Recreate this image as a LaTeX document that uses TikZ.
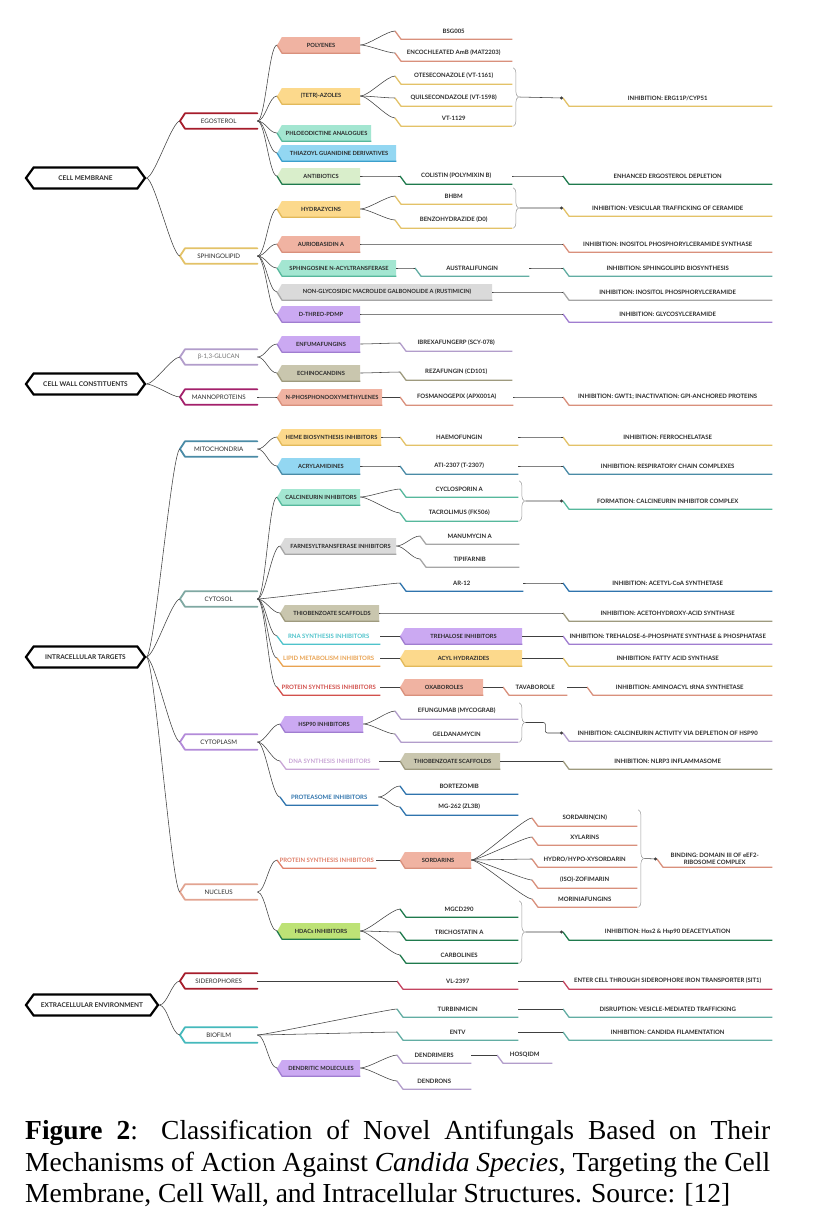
\documentclass[tikz,border=0pt]{standalone}
\usepackage{fontspec}
\setmainfont{Liberation Serif}
\newfontfamily\treefont{Lato}
\usetikzlibrary{shapes.symbols,decorations.pathreplacing,arrows.meta,calc}

\definecolor{ink}{HTML}{2B2B2B}
\definecolor{ered}{HTML}{A61C2B}
\definecolor{sgold}{HTML}{E3C268}
\definecolor{salF}{HTML}{F0B3A2}
\definecolor{salB}{HTML}{D9907C}
\definecolor{yelF}{HTML}{FCD98C}
\definecolor{yelB}{HTML}{E2B95A}
\definecolor{minF}{HTML}{A3E6D1}
\definecolor{minB}{HTML}{56B89C}
\definecolor{bluF}{HTML}{93D7F2}
\definecolor{bluB}{HTML}{3B9FCC}
\definecolor{grnF}{HTML}{D9EECB}
\definecolor{grnB}{HTML}{1F7A4D}
\definecolor{gryF}{HTML}{DADADA}
\definecolor{gryB}{HTML}{A6A6A6}
\definecolor{lavF}{HTML}{CBA9F2}
\definecolor{lavB}{HTML}{A07DD0}
\definecolor{khF}{HTML}{C9C6AE}
\definecolor{khB}{HTML}{9E9A7E}
\definecolor{ygF}{HTML}{BDE276}
\definecolor{lil}{HTML}{B29DCB}
\definecolor{mag}{HTML}{A3206B}
\definecolor{steel}{HTML}{4A8BA6}
\definecolor{ctl}{HTML}{7FA8A2}
\definecolor{pur}{HTML}{B38BD9}
\definecolor{nuc}{HTML}{E2A491}
\definecolor{teal}{HTML}{45B9BC}
\definecolor{tealL}{HTML}{62ADA3}
\definecolor{blu}{HTML}{2F74AD}
\definecolor{rnaT}{HTML}{4EC3CB}
\definecolor{orn}{HTML}{E9A352}
\definecolor{prd}{HTML}{D2504C}
\definecolor{dnaT}{HTML}{C9A6D6}
\definecolor{nps}{HTML}{E0806A}
\definecolor{pink}{HTML}{C44460}

\tikzset{
  hexa/.style={shape=signal, signal to=west and east, signal pointer angle=108,
    draw=black, line width=2.2pt, fill=white, minimum width=119pt, minimum height=21pt,
    inner sep=0pt, text=ink, font=\treefont\bfseries\fontsize{6.5}{7}\selectfont},
  grp/.style={minimum width=77pt, minimum height=15pt, inner sep=0pt, text=ink,
    font=\treefont\fontsize{6.2}{7}\selectfont},
  tag/.style={shape=signal, signal to=west, signal pointer angle=120, fill=#1,
    minimum height=16pt, inner sep=0pt, text=ink,
    font=\treefont\bfseries\fontsize{5.7}{6}\selectfont},
  leaf/.style={minimum height=16pt, inner sep=0pt, text=ink, align=center,
    font=\treefont\bfseries\fontsize{6}{7}\selectfont},
  link/.style={draw=black!75, line width=0.55pt, out=0, in=180, distance=8pt},
  uline/.style={draw=#1, line width=1.3pt, line join=round},
  gline/.style={draw=#1, line width=1.8pt, line join=round, line cap=round},
  bline/.style={draw=black!40, line width=0.5pt, decorate, decoration={brace, amplitude=5pt}},
}

\begin{document}
\begin{tikzpicture}[x=1pt,y=-1pt]
\useasboundingbox (0,0) rectangle (824,1227);
\fill[white] (0,0) rectangle (824,1227);

% main targets
\node[hexa] (cm) at (85.5,178) {CELL MEMBRANE};
\node[hexa] (cw) at (85.5,384) {CELL WALL CONSTITUENTS};
\node[hexa] (it) at (85.5,657) {INTRACELLULAR TARGETS};
\node[hexa, minimum width=132pt] (ee) at (92,1005) {EXTRACELLULAR ENVIRONMENT};

% structures
\foreach \n/\y/\col/\txt in {ego/121/ered/EGOSTEROL, sph/256/sgold/SPHINGOLIPID,
    glu/357/lil/{\textcolor{black!55}{β-1,3-GLUCAN}}, mann/397/mag/MANNOPROTEINS,
    mito/449/steel/MITOCHONDRIA, cyto/599/ctl/CYTOSOL, cypl/742/pur/CYTOPLASM,
    nucl/892/nuc/NUCLEUS, sid/981/ered/SIDEROPHORES, bio/1035/teal/BIOFILM}{
  \node[grp, anchor=west] (\n) at (180,\y) {\txt};
  \draw[gline=\col] (\n.north east) -- ([xshift=5pt]\n.north west) -- (\n.west)
    -- ([xshift=5pt]\n.south west) -- (\n.south east);
}

% drug classes
\foreach \n/\x/\y/\w/\fil/\brd/\txt in {
    poly/277/45/83/salF/salB/POLYENES, azol/277/96/83/yelF/yelB/{(TETR)-AZOLES},
    phlo/277/133/94/minF/minB/{PHLOEODICTINE ANALOGUES},
    thia/277/153/119/bluF/bluB/{THIAZOYL GUANIDINE DERIVATIVES},
    anti/277/176/83/grnF/grnB/ANTIBIOTICS, hydr/277/209/83/yelF/yelB/HYDRAZYCINS,
    auri/277/244/83/salF/salB/{AURIOBASIDIN A},
    spac/277/268/119/minF/minB/{SPHINGOSINE N-ACYLTRANSFERASE},
    ngly/277/292/215/gryF/gryB/{NON-GLYCOSIDIC MACROLIDE GALBONOLIDE A (RUSTIMICIN)},
    dthr/277/314/83/lavF/lavB/D-THREO-PDMP, enfu/277/344/83/lavF/lavB/ENFUMAFUNGINS,
    echi/277/373/83/khF/khB/ECHINOCANDINS, npho/277/397/105/salF/salB/N-PHOSPHONOOXYMETHYLENES,
    heme/277/437/104/yelF/yelB/{HEME BIOSYNTHESIS INHIBITORS},
    acry/277/466/83/bluF/steel/ACRYLAMIDINES, calc/277/497/83/minF/minB/{CALCINEURIN INHIBITORS},
    farn/280/546/116/gryF/gryB/{FARNESYLTRANSFERASE INHIBITORS},
    thio/280/613/99/khF/khB/{THIOBENZOATE SCAFFOLDS},
    treh/400/636/122/lavF/lavB/{TREHALOSE INHIBITORS}, acyl/400/658/122/yelF/yelB/{ACYL HYDRAZIDES},
    oxab/400/687/83/salF/salB/OXABOROLES, hsp/280/724/83/lavF/lavB/{HSP90 INHIBITORS},
    thiob/400/761/100/khF/khB/{THIOBENZOATE SCAFFOLDS}, sord/400/860/71/salF/salB/SORDARINS,
    hdac/277/931/83/ygF/grnB/{HDACs INHIBITORS}, dend/277/1068/83/lavF/lavB/{DENDRITIC MOLECULES}}{
  \node[tag=\fil, anchor=west, minimum width=\w] (\n) at (\x,\y) {\txt};
  \draw[uline=\brd] (\n.west) -- ([xshift=5pt]\n.west |- \n.south) -- (\n.south -| \n.east);
}

% classes without fill
\foreach \n/\x/\y/\w/\col/\txt in {rna/277/636/103/rnaT/{RNA SYNTHESIS INHIBITORS},
    lip/277/658/103/orn/{LIPID METABOLISM INHIBITORS}, prot/277/687/103/prd/{PROTEIN SYNTHESIS INHIBITORS},
    dna/280/761/99/dnaT/{DNA SYNTHESIS INHIBITORS}, prsm/280/797/98/blu/{PROTEASOME INHIBITORS},
    nprot/277/860/99/nps/{PROTEIN SYNTHESIS INHIBITORS}}{
  \node[leaf, anchor=west, minimum width=\w, text=\col] (\n) at (\x,\y) {\txt};
  \draw[uline=\col] (\n.west) -- ([xshift=6pt]\n.south west) -- (\n.south east);
}

% drugs
\foreach \n/\x/\y/\w/\col/\txt in {
    bsg/395/31/117/salB/BSG005, enco/395/53/117/salB/{ENCOCHLEATED AmB (MAT2203)},
    otes/395/76/117/sgold/{OTESECONAZOLE (VT-1161)}, quil/395/98/117/sgold/{QUILSECONDAZOLE (VT-1598)},
    vt/395/118/117/sgold/VT-1129, coli/400/176/112/grnB/{COLISTIN (POLYMIXIN B)},
    bhbm/395/196/117/sgold/BHBM, benz/395/220/117/sgold/{BENZOHYDRAZIDE (D0)},
    aust/415/268/114/tealL/AUSTRALIFUNGIN, ibre/400/343/112/lil/{IBREXAFUNGERP (SCY-078)},
    reza/400/372/112/khB/{REZAFUNGIN (CD101)}, fosm/400/397/113/salB/{FOSMANOGEPIX (APX001A)},
    haem/400/437/118/sgold/HAEMOFUNGIN, ati/400/466/118/steel/{ATI-2307 (T-2307)},
    cycl/400/489/118/minB/{CYCLOSPORIN A}, tacr/400/513/118/minB/{TACROLIMUS (FK506)},
    manu/420/536/99/gryB/{MANUMYCIN A}, tipi/420/559/99/gryB/TIPIFARNIB,
    ar/400/583/123/blu/AR-12, tava/503/687/64/salB/TAVABOROLE,
    efun/395/711/123/lil/{EFUNGUMAB (MYCOGRAB)}, geld/395/734/123/lil/GELDANAMYCIN,
    bort/400/786/118/blu/BORTEZOMIB, mg/400/807/118/blu/{MG-262 (ZL3B)},
    sd1/532/818/105/salB/{SORDARIN(CIN)}, sd2/532/837/105/salB/XYLARINS,
    sd3/532/859/105/salB/{HYDRO/HYPO-XYSORDARIN}, sd4/532/880/105/salB/{(ISO)-ZOFIMARIN},
    sd5/532/899/105/salB/MORINIAFUNGINS, mgcd/400/909/118/grnB/MGCD290,
    tric/400/932/118/grnB/{TRICHOSTATIN A}, carb/400/955/118/grnB/CARBOLINES,
    vl/397/981/121/pink/VL-2397, turb/397/1009/121/tealL/TURBINMICIN,
    entv/397/1032/121/tealL/ENTV, dmer/397/1055/74/lil/DENDRIMERS,
    dron/397/1081/74/lil/DENDRONS, hosq/497/1055/55/lil/HOSQIDM}{
  \node[leaf, anchor=west, minimum width=\w] (\n) at (\x,\y) {\txt};
  \draw[uline=\col] (\n.west) -- ([xshift=6pt]\n.south west) -- (\n.south east);
}

% mechanisms
\foreach \n/\x/\y/\col/\txt in {
    e1/563/98/sgold/{INHIBITION: ERG11P/CYP51}, e2/563/176/grnB/{ENHANCED ERGOSTEROL DEPLETION},
    e3/563/208/sgold/{INHIBITION: VESICULAR TRAFFICKING OF CERAMIDE},
    e4/563/244/salB/{INHIBITION: INOSITOL PHOSPHORYLCERAMIDE SYNTHASE},
    e5/563/268/tealL/{INHIBITION: SPHINGOLIPID BIOSYNTHESIS},
    e6/563/292/gryB/{INHIBITION: INOSITOL PHOSPHORYLCERAMIDE},
    e7/563/314/lavB/{INHIBITION: GLYCOSYLCERAMIDE},
    e8/563/397/salB/{INHIBITION: GWT1; INACTIVATION: GPI-ANCHORED PROTEINS},
    e9/563/437/sgold/{INHIBITION: FERROCHELATASE},
    e10/563/466/steel/{INHIBITION: RESPIRATORY CHAIN COMPLEXES},
    e11/563/501/minB/{FORMATION: CALCINEURIN INHIBITOR COMPLEX},
    e12/563/583/blu/{INHIBITION: ACETYL-CoA SYNTHETASE},
    e13/563/613/khB/{INHIBITION: ACETOHYDROXY-ACID SYNTHASE},
    e14/563/636/lavB/{INHIBITION: TREHALOSE-6-PHOSPHATE SYNTHASE \& PHOSPHATASE},
    e15/563/658/sgold/{INHIBITION: FATTY ACID SYNTHASE},
    e16/587/687/salB/{INHIBITION: AMINOACYL tRNA SYNTHETASE},
    e17/563/733/lil/{INHIBITION: CALCINEURIN ACTIVITY VIA DEPLETION OF HSP90},
    e18/563/761/khB/{INHIBITION: NLRP3 INFLAMMASOME},
    e19/657/859/salB/{BINDING: DOMAIN III OF eEF2-\\RIBOSOME COMPLEX},
    e20/563/932/grnB/{INHIBITION: Hos2 \& Hsp90 DEACETYLATION},
    e21/563/981/pink/{ENTER CELL THROUGH SIDEROPHORE IRON TRANSPORTER (SIT1)},
    e22/563/1009/tealL/{DISRUPTION: VESICLE-MEDIATED TRAFFICKING},
    e23/563/1032/tealL/{INHIBITION: CANDIDA FILAMENTATION}}{
  \node[leaf, anchor=west, minimum width={772-\x}] (\n) at (\x,\y) {\txt};
  \draw[uline=\col] (\n.west) -- ([xshift=6pt]\n.south west) -- (\n.south east);
}

% branches
\foreach \a/\b in {cm/ego, cm/sph, ego/poly, ego/azol, ego/phlo, ego/thia, ego/anti,
    sph/hydr, sph/auri, sph/spac, sph/ngly, sph/dthr, cw/glu, cw/mann, glu/enfu, glu/echi,
    mann/npho, it/mito, it/cyto, it/cypl, it/nucl, mito/heme, mito/acry, cyto/calc, cyto/farn,
    cyto/ar, cyto/thio, cyto/rna, cyto/lip, cyto/prot, cypl/hsp, cypl/dna, cypl/prsm,
    nucl/nprot, nucl/hdac, ee/sid, ee/bio, sid/vl, bio/turb, bio/entv, bio/dend,
    poly/bsg, poly/enco, azol/otes, azol/quil, azol/vt, anti/coli, hydr/bhbm, hydr/benz,
    spac/aust, enfu/ibre, echi/reza, npho/fosm, heme/haem, acry/ati, calc/cycl, calc/tacr,
    farn/manu, farn/tipi, rna/treh, lip/acyl, prot/oxab, oxab/tava, hsp/efun, hsp/geld,
    dna/thiob, prsm/bort, prsm/mg, nprot/sord, sord/sd1, sord/sd2, sord/sd3, sord/sd4,
    sord/sd5, hdac/mgcd, hdac/tric, hdac/carb, dend/dmer, dend/dron, dmer/hosq,
    coli/e2, auri/e4, aust/e5, ngly/e6, dthr/e7, fosm/e8, haem/e9, ati/e10, ar/e12,
    thio/e13, treh/e14, acyl/e15, tava/e16, thiob/e18, vl/e21, turb/e22, entv/e23}
  \draw[link] (\a.east) to (\b.west);

% grouped drugs
\foreach \t/\b/\g in {otes/vt/azb, bhbm/benz/hyb, cycl/tacr/cab, efun/geld/hsb, sd1/sd5/sdb, mgcd/carb/hdb}{
  \draw[bline] ([xshift=1pt]\t.north east) -- ([xshift=1pt]\b.south east);
  \coordinate (\g) at ($(\t.north east)!0.5!(\b.south east)+(7,0)$);
}
\foreach \g/\e in {azb/e1, hyb/e3, cab/e11, sdb/e19, hdb/e20}
  \draw[link, -{Circle[length=3pt]}] (\g) -- (\e.west);
\draw[link, -{Circle[length=3pt]}, rounded corners=2pt] (hsb) -- ++(20,0) |- (e17.west);

% caption
\node[anchor=north west, inner sep=0pt, text width=745pt, align=justify,
  font=\fontsize{27.5}{31.5}\selectfont] (cap) at (25,1120) {\textbf{Figure 2}: Classification of Novel Antifungals Based on Their\linebreak
  Mechanisms of Action Against \textit{Candida Species}, Targeting the Cell\linebreak
  Membrane, Cell Wall, and Intracellular Structures. Source: [12]};
\end{tikzpicture}
\end{document}
